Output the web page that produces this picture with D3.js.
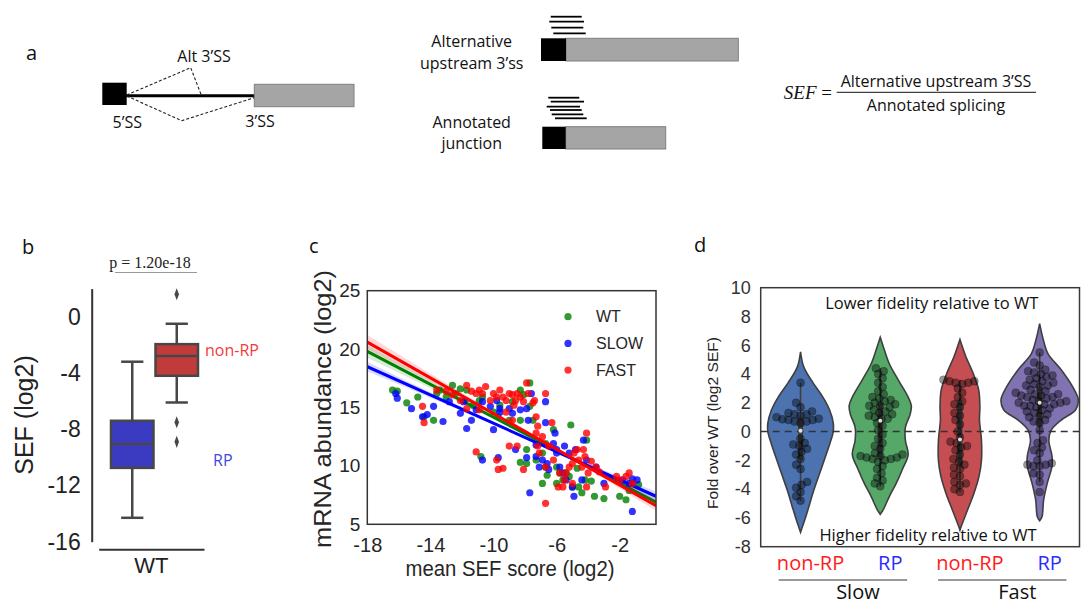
<!DOCTYPE html>
<html>
<head>
<meta charset="utf-8">
<script src="https://cdn.jsdelivr.net/npm/d3@7"></script>
<style>
  body { margin: 0; background: #fff; }
  svg { display: block; }
</style>
</head>
<body>
<script>
var width = 1081, height = 605;
var sans = "'Liberation Sans', Arial, sans-serif";
var soft = "'Open Sans', sans-serif";

// ---- panel b : SEF boxplot (log2) ----
var boxGroups = ["RP", "non-RP"];
var boxColors = ["#3b3bc2", "#c23b3b"];
var rpBox = [-14.3, -10.75, -9.05, -7.4, -3.2];      // low whisker, q1, median, q3, high whisker
var nonRpBox = [-6.1, -4.2, -2.8, -1.95, -0.5];
var nonRpOutliers = [1.6, -7.5, -8.9];
var sefTicks = [0, -4, -8, -12, -16];

// ---- panel c : mRNA abundance vs mean SEF ----
var fitNames = ["WT", "SLOW", "FAST"];
var fitColors = ["#008000", "#0000ff", "#ff0000"];
var fitX = [-18, 0.3];
var fitStart = [19.8, 18.5, 20.6];
var fitEnd = [6.9, 7.4, 6.6];
var ciX = [-18, -8, 0.3];
var ciHalf = [[0.55, 0.12, 0.4], [0.4, 0.1, 0.4], [0.6, 0.12, 0.45]];
var abundTicks = [5, 10, 15, 20, 25];
var sefScoreTicks = [-18, -14, -10, -6, -2];

var wtPoints = [[-16.4,16.5],[-16.1,16.4],[-15.5,15.4],[-14.8,15.9],[-14.4,14.2],[-13.8,13.9],[-13.6,16.2],
  [-12.6,16.9],[-12.1,16.6],[-11.8,15.6],[-11.7,16.5],[-10.9,15.6],[-10.0,14.6],[-9.6,15.2],[-8.8,15.5],
  [-8.3,16.5],[-7.7,17.1],[-7.7,15.1],[-8.1,16.1],[-7.5,13.9],[-7.9,11.4],[-7.9,10.2],[-7.3,10.5],[-6.9,11.1],
  [-6.7,11.9],[-6.7,9.9],[-6.6,9.2],[-6.2,13.1],[-6.0,9.9],[-5.8,9.4],[-5.4,9.4],[-5.2,9.1],[-5.1,13.5],
  [-5.0,8.2],[-4.7,9.8],[-4.6,8.2],[-4.4,7.7],[-4.2,8.8],[-4.1,12.2],[-3.8,8.7],[-3.6,7.4],[-3.0,7.2],
  [-2.0,7.4],[-1.6,7.1],[-1.4,7.9],[-1.2,8.5],[-0.8,8.4],[-10.8,10.8],[-8.3,10.3],[-6.9,8.5],[-5.6,8.8],
  [-6.0,8.5],[-9.7,14.2],[-9.0,13.9],[-8.3,13.9],[-10.7,15.9],[-11.3,15.2],[-12.4,16.2],[-13.0,15.9],[-13.4,16.5]];

var slowPoints = [[-16.2,16.2],[-16.1,15.8],[-15.2,14.9],[-14.5,14.2],[-14.2,14.4],[-13.8,15.1],[-13.2,13.8],
  [-12.8,15.5],[-12.1,14.5],[-11.9,15.5],[-11.7,13.2],[-11.4,13.9],[-11.1,14.8],[-10.7,15.5],[-10.2,15.1],
  [-9.8,15.6],[-9.6,14.9],[-9.6,14.6],[-10.0,13.1],[-9.7,10.7],[-10.7,10.5],[-9.0,14.9],[-8.8,14.5],[-8.6,11.4],
  [-8.3,14.8],[-7.9,14.9],[-7.8,13.9],[-7.6,16.2],[-7.9,10.7],[-7.3,11.8],[-7.3,10.8],[-7.1,9.9],[-6.9,10.5],
  [-6.7,15.5],[-6.7,13.7],[-6.6,10.2],[-6.5,9.7],[-6.2,11.9],[-6.1,12.8],[-6.0,11.1],[-5.8,9.9],[-5.6,9.4],
  [-5.4,8.8],[-5.5,11.7],[-5.2,11.1],[-5.0,8.2],[-4.9,7.4],[-4.8,11.4],[-4.4,8.8],[-4.3,12.2],[-4.1,10.5],
  [-3.5,9.9],[-3.0,8.5],[-1.8,8.8],[-1.4,8.5],[-1.2,8.9],[-0.9,8.8],[-1.2,6.1],[-7.7,7.7],[-6.0,11.4]];

var fastPoints = [[-14.5,15.1],[-14.4,13.7],[-13.6,16.5],[-13.0,16.4],[-12.6,16.1],[-12.1,15.6],[-11.7,16.9],
  [-11.4,16.4],[-11.1,16.2],[-10.9,16.5],[-10.7,16.2],[-10.5,16.8],[-10.2,15.6],[-10.0,16.2],[-9.8,15.9],
  [-9.6,16.5],[-9.4,15.9],[-9.2,15.6],[-9.0,16.2],[-8.8,16.1],[-8.7,15.2],[-8.6,15.6],[-8.5,16.2],[-8.3,15.9],
  [-8.1,15.5],[-7.9,17.1],[-7.8,16.2],[-7.5,15.4],[-7.4,15.6],[-7.3,14.2],[-7.2,13.4],[-11.1,11.2],[-9.8,10.5],
  [-9.4,9.8],[-9.7,9.7],[-9.0,11.7],[-8.5,11.7],[-8.1,9.7],[-7.3,12.8],[-7.2,11.7],[-7.1,11.1],[-6.9,12.5],
  [-6.7,9.9],[-6.7,16.2],[-6.5,11.7],[-6.3,13.7],[-6.2,10.5],[-5.9,8.2],[-5.8,9.4],[-5.6,8.2],[-5.5,8.8],
  [-5.4,9.4],[-5.2,9.9],[-5.0,8.5],[-4.9,11.1],[-4.7,11.4],[-4.6,10.5],[-4.4,9.9],[-4.3,11.4],[-4.2,10.8],
  [-4.1,12.8],[-4.0,9.4],[-3.8,10.4],[-3.5,9.9],[-3.3,9.5],[-2.9,8.2],[-2.2,9.1],[-2.0,8.8],[-1.6,9.1],
  [-1.4,9.4],[-1.2,8.5],[-6.7,6.8],[-4.1,8.2],[-5.0,10.2],[-10.9,14.8],[-11.7,14.9],[-9.2,14.6],[-8.8,13.9]];

// ---- panel d : fold over WT (log2 SEF) ----
var violinGroups = ["Slow non-RP", "Slow RP", "Fast non-RP", "Fast RP"];
var violinColors = ["#4c72b0", "#55a868", "#c44e52", "#8172b2"];
var foldTicks = [-8, -6, -4, -2, 0, 2, 4, 6, 8, 10];

var slowNonRp = [3.4, 2.0, 1.7, 1.4, 1.3, 1.2, 1.2, 1.1, 1.0, 0.9, 0.85, 0.8, 0.8, 0.7, 0.7, 0.6,
  -0.5, -0.8, -0.9, -1.0, -1.2, -1.4, -1.6, -1.9, -2.3, -2.6, -3.5, -3.7, -3.9, -4.2, -4.5, -4.8];
var slowRp = [4.4, 4.2, 4.0, 3.7, 3.4, 3.1, 2.8, 2.6, 2.4, 2.3, 2.2, 2.1, 2.0, 1.9, 1.8, 1.8, 1.7, 1.5,
  1.4, 1.3, 1.2, 1.1, 1.0, 0.9, 0.9, 0.6, 0.4, 0.1, -0.2, -0.5, -0.8, -1.0, -1.2, -1.5, -1.6, -1.7, -1.7,
  -1.8, -1.8, -1.9, -1.9, -2.0, -2.1, -2.4, -2.6, -2.9, -3.2, -3.4, -3.6, -3.8];
var fastNonRp = [3.6, 3.5, 3.5, 3.4, 3.4, 3.3, 3.0, 2.7, 2.4, 2.1, 1.9, 1.7, 1.3, 1.1, 0.8, 0.5, 0.0,
  -0.4, -0.7, -0.8, -1.0, -1.1, -1.3, -1.6, -1.9, -2.1, -2.3, -2.5, -2.6, -3.0, -3.1, -3.5, -3.6, -3.7, -4.0, -4.2];
var fastRp = [5.5, 4.8, 4.6, 4.3, 4.2, 4.1, 4.0, 3.9, 3.8, 3.7, 3.6, 3.5, 3.4, 3.3, 3.2, 3.2, 3.1, 2.9,
  2.8, 2.7, 2.6, 2.6, 2.5, 2.5, 2.4, 2.4, 2.3, 2.2, 2.1, 2.1, 2.0, 2.0, 1.9, 1.9, 1.8, 1.8, 1.7, 1.6, 1.5,
  1.4, 1.3, 1.2, 1.1, 1.0, 0.8, 0.7, 0.6, 0.1, -0.6, -0.8, -1.1, -1.3, -1.5, -2.0, -2.2, -2.3, -2.3, -2.4,
  -2.4, -2.9, -3.0, -3.5, -4.2];

// violin outlines: [value, relative density]
var densSlowNonRp = [[5.55,0],[4.5,0.08],[3.4,0.31],[2.4,0.56],[1.5,0.73],[0.6,0.82],[0,0.82],[-0.8,0.74],
  [-1.7,0.63],[-2.9,0.48],[-4.1,0.33],[-5.2,0.21],[-6.1,0.11],[-7.0,0]];
var densSlowRp = [[6.55,0],[5.7,0.1],[4.7,0.23],[3.6,0.45],[2.4,0.7],[1.8,0.78],[1.2,0.75],[0.3,0.63],
  [-0.6,0.63],[-1.6,0.7],[-2.6,0.56],[-3.6,0.4],[-4.5,0.23],[-5.4,0.08],[-5.75,0]];
var densFastNonRp = [[6.4,0],[5.2,0.15],[4.05,0.33],[2.9,0.47],[1.7,0.5],[0.8,0.49],[-0.6,0.54],
  [-2.0,0.54],[-3.1,0.48],[-4.3,0.35],[-5.45,0.19],[-6.6,0.03],[-6.85,0]];
var densFastRp = [[7.5,0],[6.4,0.09],[5.4,0.21],[4.3,0.54],[3.1,0.83],[2.2,0.97],[1.5,0.9],[0.8,0.54],
  [0.1,0.29],[-0.6,0.23],[-1.7,0.31],[-2.4,0.31],[-3.6,0.19],[-4.75,0.1],[-5.9,0.06],[-6.2,0]];

var svg = d3.select("body").append("svg")
  .attr("width", width)
  .attr("height", height);

// panel letters
[["a", 26, 60], ["b", 22, 254], ["c", 309, 253], ["d", 694, 252]].forEach(function (p) {
  svg.append("text").text(p[0]).attr("x", p[1]).attr("y", p[2])
    .style("font", "20px " + soft).attr("fill", "#111");
});

// ================= panel a (schematic) =================
var ga = svg.append("g");
ga.append("line").attr("x1", 126).attr("x2", 255).attr("y1", 95.7).attr("y2", 95.7)
  .attr("stroke", "#000").attr("stroke-width", 3);
ga.append("rect").attr("x", 102.3).attr("y", 82.7).attr("width", 24.4).attr("height", 22.3).attr("fill", "#000");
ga.append("rect").attr("x", 254.3).attr("y", 84.3).attr("width", 99.7).attr("height", 22.4)
  .attr("fill", "#a5a5a5").attr("stroke", "#7f7f7f");
[[[126.7, 95], [190.7, 67.7], [201, 94.3]], [[126.7, 96], [181.7, 120.7], [254.3, 97.7]]].forEach(function (pts) {
  ga.append("path").attr("d", d3.line()(pts)).attr("fill", "none")
    .attr("stroke", "#222").attr("stroke-width", 1.1).attr("stroke-dasharray", "3,2");
});
function aText(t, x, y) {
  ga.append("text").text(t).attr("x", x).attr("y", y).attr("text-anchor", "middle")
    .style("font", "16px " + soft).attr("fill", "#111");
}
aText("Alt 3\u2019SS", 204, 62);
aText("5\u2019SS", 127.3, 128);
aText("3\u2019SS", 260, 126.5);
aText("Alternative", 471.7, 47);
aText("upstream 3\u2019ss", 471.7, 68.5);
aText("Annotated", 471.7, 128);
aText("junction", 471.7, 149);

function exonPair(y, h, xb, xg, xe) {
  ga.append("rect").attr("x", xg).attr("y", y).attr("width", xe - xg).attr("height", h)
    .attr("fill", "#a5a5a5").attr("stroke", "#7f7f7f");
  ga.append("rect").attr("x", xb).attr("y", y).attr("width", xg - xb).attr("height", h).attr("fill", "#000");
}
exonPair(38.3, 22.7, 541, 566, 738.3);
exonPair(126.7, 22.3, 542.3, 565.7, 665.7);
var reads1 = [[16.7, 550.7, 581.7], [21.7, 549.3, 584], [27.7, 551.3, 583.3], [33.3, 553.3, 585.7]];
var reads2 = [[97.7, 548.3, 579.3], [101.7, 550.7, 584], [106.7, 546.7, 580], [110, 550, 581.7],
  [114.3, 551.7, 583.3], [118.3, 555, 586.7]];
reads1.concat(reads2).forEach(function (r) {
  ga.append("line").attr("x1", r[1]).attr("x2", r[2]).attr("y1", r[0]).attr("y2", r[0])
    .attr("stroke", "#000").attr("stroke-width", 1.8);
});
var eq = ga.append("text").attr("x", 832).attr("y", 99).attr("text-anchor", "end")
  .style("font", "19px 'Liberation Serif', serif").attr("fill", "#111");
eq.append("tspan").text("SEF").style("font-style", "italic");
eq.append("tspan").text(" =");
ga.append("line").attr("x1", 836.7).attr("x2", 1036).attr("y1", 92.3).attr("y2", 92.3)
  .attr("stroke", "#111").attr("stroke-width", 1);
aText("Alternative upstream 3\u2019SS", 936, 87);
aText("Annotated splicing", 936, 110.5);

// ================= panel b =================
var yB = d3.scaleLinear().domain([-16, 2]).range([541.7, 288.6]);
var xB = d3.scaleBand().domain(boxGroups).range([110, 199]);

var axB = svg.append("g").attr("transform", "translate(91.7,0)")
  .call(d3.axisLeft(yB).tickValues(sefTicks).tickSize(0).tickPadding(11).tickFormat(String));
axB.select(".domain").attr("stroke", "#333").attr("stroke-width", 2);
axB.selectAll("text").style("font", "23px " + sans).attr("fill", "#222");

var xBot = d3.scaleBand().domain(["WT"]).range([98.7, 204]);
var axB2 = svg.append("g").attr("transform", "translate(0,549.3)")
  .call(d3.axisBottom(xBot).tickSize(0).tickPadding(8));
axB2.select(".domain").attr("stroke", "#333").attr("stroke-width", 2);
axB2.selectAll("text").style("font", "22px " + sans).attr("fill", "#222");

svg.append("text").text("SEF (log2)")
  .attr("transform", "translate(24,415) rotate(-90)").attr("dy", "0.35em")
  .attr("text-anchor", "middle").style("font", "25px " + sans).attr("fill", "#222");

[rpBox, nonRpBox].forEach(function (s, i) {
  var x0 = xB(boxGroups[i]), bw = xB.bandwidth(), cx = x0 + bw / 2;
  var g = svg.append("g").attr("stroke", "#474747").attr("stroke-width", 2.5);
  g.append("line").attr("x1", cx).attr("x2", cx).attr("y1", yB(s[0])).attr("y2", yB(s[1]));
  g.append("line").attr("x1", cx).attr("x2", cx).attr("y1", yB(s[3])).attr("y2", yB(s[4]));
  [s[0], s[4]].forEach(function (v) {
    g.append("line").attr("x1", cx - bw / 4).attr("x2", cx + bw / 4).attr("y1", yB(v)).attr("y2", yB(v));
  });
  g.append("rect").attr("x", x0 + 1).attr("y", yB(s[3])).attr("width", bw - 2)
    .attr("height", yB(s[1]) - yB(s[3])).attr("fill", boxColors[i]);
  g.append("line").attr("x1", x0 + 1).attr("x2", x0 + bw - 1).attr("y1", yB(s[2])).attr("y2", yB(s[2]));
});
svg.selectAll(".outlier").data(nonRpOutliers).enter().append("path")
  .attr("class", "outlier")
  .attr("d", d3.symbol().type(d3.symbolDiamond).size(42))
  .attr("transform", function (d) {
    return "translate(" + (xB("non-RP") + xB.bandwidth() / 2) + "," + yB(d) + ") scale(0.65,1)";
  })
  .attr("fill", "#474747");

svg.append("text").text("non-RP").attr("x", 205).attr("y", 356)
  .style("font", "16px " + soft).attr("fill", "#f23c3c");
svg.append("text").text("RP").attr("x", 213).attr("y", 466)
  .style("font", "16px " + soft).attr("fill", "#4444e0");
svg.append("text").text("p = 1.20e-18").attr("x", 150).attr("y", 268).attr("text-anchor", "middle")
  .style("font", "16px 'Liberation Serif', serif").attr("fill", "#222");
svg.append("line").attr("x1", 115).attr("x2", 197).attr("y1", 272.5).attr("y2", 272.5)
  .attr("stroke", "#999").attr("stroke-width", 1);

// ================= panel c =================
var xC = d3.scaleLinear().domain([-18, 0.3]).range([367.3, 656]);
var yC = d3.scaleLinear().domain([5, 25]).range([524.3, 290.7]);

svg.append("clipPath").attr("id", "clipC").append("rect")
  .attr("x", 367.3).attr("y", 290.7).attr("width", 656 - 367.3).attr("height", 524.3 - 290.7);
var gc = svg.append("g").attr("clip-path", "url(#clipC)");

[wtPoints, slowPoints, fastPoints].forEach(function (pts, i) {
  var fit = d3.scaleLinear().domain(fitX).range([fitStart[i], fitEnd[i]]);
  var half = d3.scaleLinear().domain(ciX).range(ciHalf[i]);
  gc.selectAll(".pt" + i).data(pts).enter().append("circle")
    .attr("class", "pt" + i)
    .attr("cx", function (d) { return xC(d[0]); })
    .attr("cy", function (d) { return yC(d[1]); })
    .attr("r", 3.6)
    .attr("fill", fitColors[i]).attr("fill-opacity", 0.8);
  gc.append("path").datum(ciX)
    .attr("d", d3.area().curve(d3.curveNatural)
      .x(function (d) { return xC(d); })
      .y0(function (d) { return yC(fit(d) - half(d)); })
      .y1(function (d) { return yC(fit(d) + half(d)); }))
    .attr("fill", fitColors[i]).attr("fill-opacity", 0.15);
  gc.append("path").datum(fitX)
    .attr("d", d3.line().x(function (d) { return xC(d); }).y(function (d) { return yC(fit(d)); }))
    .attr("stroke", fitColors[i]).attr("stroke-width", 3).attr("fill", "none");
});

svg.append("rect").attr("x", 367.3).attr("y", 290.7).attr("width", 656 - 367.3).attr("height", 524.3 - 290.7)
  .attr("fill", "none").attr("stroke", "#333").attr("stroke-width", 1.5);

var axC1 = svg.append("g").attr("transform", "translate(367.3,0)")
  .call(d3.axisLeft(yC).tickValues(abundTicks).tickSize(0).tickPadding(7).tickFormat(String));
axC1.select(".domain").remove();
axC1.selectAll("text").style("font", "19px " + sans).attr("fill", "#262626");
var axC2 = svg.append("g").attr("transform", "translate(0,524.3)")
  .call(d3.axisBottom(xC).tickValues(sefScoreTicks).tickSize(0).tickPadding(14).tickFormat(String));
axC2.select(".domain").remove();
axC2.selectAll("text").style("font", "20px " + sans).attr("fill", "#262626");

svg.append("text").text("mean SEF score (log2)").attr("x", 510).attr("y", 576)
  .attr("text-anchor", "middle").attr("textLength", 209).attr("lengthAdjust", "spacingAndGlyphs")
  .style("font", "22px " + sans).attr("fill", "#262626");
svg.append("text").text("mRNA abundance (log2)")
  .attr("transform", "translate(322.5,409) rotate(-90)").attr("dy", "0.35em")
  .attr("text-anchor", "middle").attr("textLength", 278).attr("lengthAdjust", "spacingAndGlyphs")
  .style("font", "24px " + sans).attr("fill", "#262626");

fitNames.forEach(function (n, i) {
  var ly = 316.7 + i * 26.7;
  svg.append("circle").attr("cx", 568).attr("cy", ly).attr("r", 3.6)
    .attr("fill", fitColors[i]).attr("fill-opacity", 0.8);
  svg.append("text").text(n).attr("x", 596).attr("y", ly).attr("dy", "0.35em")
    .style("font", "16px " + sans).attr("fill", "#262626");
});

// ================= panel d =================
var yD = d3.scaleLinear().domain([-8, 10]).range([546.7, 287.7]);
var xD = d3.scaleBand().domain(violinGroups).range([760.7, 1079.5]);
var wD = d3.scaleLinear().domain([0, 1]).range([0, xD.bandwidth() / 2]);

svg.append("clipPath").attr("id", "clipD").append("rect")
  .attr("x", 760.7).attr("y", 287.7).attr("width", 1079.5 - 760.7).attr("height", 546.7 - 287.7);
var gd = svg.append("g").attr("clip-path", "url(#clipD)");

// simple beeswarm: each point takes the free slot nearest the centre line
function swarm(values, scale, d) {
  var out = [];
  values.slice().sort(d3.ascending).forEach(function (v) {
    var py = scale(v);
    var near = out.filter(function (p) { return Math.abs(p.y - py) < d; });
    var cands = [0];
    near.forEach(function (p) {
      var dx = Math.sqrt(d * d - (p.y - py) * (p.y - py));
      cands.push(p.dx - dx, p.dx + dx);
    });
    cands.sort(function (a, b) { return Math.abs(a) - Math.abs(b); });
    var pick = cands.find(function (c) {
      return near.every(function (p) {
        return (p.dx - c) * (p.dx - c) + (p.y - py) * (p.y - py) >= d * d - 0.01;
      });
    });
    out.push({ v: v, y: py, dx: pick });
  });
  return out;
}

var groupValues = [slowNonRp, slowRp, fastNonRp, fastRp];
var groupDens = [densSlowNonRp, densSlowRp, densFastNonRp, densFastRp];

violinGroups.forEach(function (name, i) {
  var cx = xD(name) + xD.bandwidth() / 2;
  gd.append("path").datum(groupDens[i])
    .attr("d", d3.area().curve(d3.curveCatmullRom)
      .y(function (d) { return yD(d[0]); })
      .x0(function (d) { return cx - wD(d[1]); })
      .x1(function (d) { return cx + wD(d[1]); }))
    .attr("fill", violinColors[i]).attr("stroke", "#3f3f3f").attr("stroke-width", 1.6);
});

gd.append("line").attr("x1", 760.7).attr("x2", 1079.5).attr("y1", yD(0)).attr("y2", yD(0))
  .attr("stroke", "#333").attr("stroke-width", 1.5).attr("stroke-dasharray", "7,5");

violinGroups.forEach(function (name, i) {
  var cx = xD(name) + xD.bandwidth() / 2;
  var s = groupValues[i].slice().sort(d3.ascending);
  var q1 = d3.quantile(s, 0.25), q2 = d3.quantile(s, 0.5), q3 = d3.quantile(s, 0.75);
  var iqr = q3 - q1;
  var lo = d3.min(s.filter(function (v) { return v >= q1 - 1.5 * iqr; }));
  var hi = d3.max(s.filter(function (v) { return v <= q3 + 1.5 * iqr; }));
  gd.append("line").attr("x1", cx).attr("x2", cx).attr("y1", yD(lo)).attr("y2", yD(hi))
    .attr("stroke", "#3f3f3f").attr("stroke-width", 1.6);
  gd.append("line").attr("x1", cx).attr("x2", cx).attr("y1", yD(q1)).attr("y2", yD(q3))
    .attr("stroke", "#3f3f3f").attr("stroke-width", 5);
  swarm(groupValues[i], yD, 6.2).forEach(function (p) {
    gd.append("circle").attr("cx", cx + p.dx).attr("cy", p.y).attr("r", 4)
      .attr("fill", "#000").attr("fill-opacity", 0.4)
      .attr("stroke", "#000").attr("stroke-opacity", 0.35).attr("stroke-width", 0.6);
  });
  gd.append("circle").attr("cx", cx).attr("cy", yD(q2)).attr("r", 2)
    .attr("fill", "#fff").attr("fill-opacity", 0.85);
});

svg.append("rect").attr("x", 760.7).attr("y", 287.7).attr("width", 1079.5 - 760.7).attr("height", 546.7 - 287.7)
  .attr("fill", "none").attr("stroke", "#3a3a3a").attr("stroke-width", 1.5);

var axD = svg.append("g").attr("transform", "translate(760.7,0)")
  .call(d3.axisLeft(yD).tickValues(foldTicks).tickSize(0).tickPadding(10).tickFormat(String));
axD.select(".domain").remove();
axD.selectAll("text").style("font", "18px " + sans).attr("fill", "#333");

svg.append("text").text("Fold over WT (log2 SEF)")
  .attr("transform", "translate(713,423) rotate(-90)").attr("dy", "0.35em")
  .attr("text-anchor", "middle").attr("textLength", 172).attr("lengthAdjust", "spacingAndGlyphs")
  .style("font", "15px " + sans).attr("fill", "#222");

svg.append("text").text("Lower fidelity relative to WT").attr("x", 931.7).attr("y", 309)
  .attr("text-anchor", "middle").style("font", "16.5px " + soft).attr("fill", "#111");
svg.append("text").text("Higher fidelity relative to WT").attr("x", 928).attr("y", 541)
  .attr("text-anchor", "middle").style("font", "16.5px " + soft).attr("fill", "#111");

violinGroups.forEach(function (name, i) {
  var isRp = i % 2 === 1;
  svg.append("text").text(isRp ? "RP" : "non-RP")
    .attr("x", xD(name) + xD.bandwidth() / 2 + 10).attr("y", 570)
    .attr("text-anchor", "middle").style("font", "20px " + soft)
    .attr("fill", isRp ? "#2b2bff" : "#ff1a1a");
});
["Slow", "Fast"].forEach(function (speed, k) {
  var a = xD(violinGroups[2 * k]) + 18, b = xD(violinGroups[2 * k + 1]) + xD.bandwidth() - 13;
  svg.append("line").attr("x1", a).attr("x2", b).attr("y1", 580).attr("y2", 580)
    .attr("stroke", "#777").attr("stroke-width", 1.5);
  svg.append("text").text(speed).attr("x", (a + b) / 2 + 15).attr("y", 599)
    .attr("text-anchor", "middle").style("font", "20px " + soft).attr("fill", "#111");
});
</script>
</body>
</html>
